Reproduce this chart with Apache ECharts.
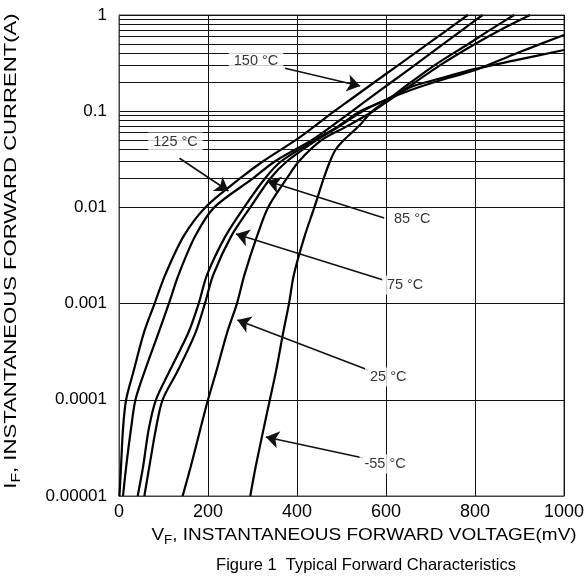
<!DOCTYPE html>
<html><head><meta charset="utf-8">
<script src="https://cdn.jsdelivr.net/npm/echarts@6.0.0/dist/echarts.min.js"></script>
<style>html,body{margin:0;padding:0;background:#fff}#c{width:587px;height:578px}</style>
</head><body><div id="c"></div>
<script>
// ---- axis / tick data ----
const xMin = 0, xMax = 1000, xStep = 200;
const yTickLabels = ['0.00001', '0.0001', '0.001', '0.01', '0.1', '1'];
const decades = [0.00001, 0.0001, 0.001, 0.01, 0.1];
const minorMultipliers = [2, 3, 4, 5, 6, 7, 8, 9];

// ---- curves: forward voltage (mV) vs forward current (A) ----
const vf150 = [1, 4.5, 9, 16, 33, 56, 80, 104, 145, 194, 272, 323, 397, 440, 484, 518, 574, 627, 694, 738, 784];
const if150 = [0.00001, 0.00002, 0.00005, 0.0001, 0.0002, 0.0005, 0.001, 0.002, 0.005, 0.01, 0.02, 0.03, 0.05, 0.07, 0.1, 0.13, 0.2, 0.3, 0.5, 0.7, 1];

const vf125 = [9, 16, 27, 37, 58, 89, 112, 134, 171, 214, 301, 350, 433, 478, 524, 557, 612, 664, 729, 772, 817];
const if125 = [0.00001, 0.00002, 0.00005, 0.0001, 0.0002, 0.0005, 0.001, 0.002, 0.005, 0.01, 0.02, 0.03, 0.05, 0.07, 0.1, 0.13, 0.2, 0.3, 0.5, 0.7, 1];

const vf85 = [42, 54, 67, 83, 114, 156, 179, 198, 239, 281, 328, 364, 440, 493, 542, 598, 656, 717, 801, 895, 1000];
const if85 = [0.00001, 0.00002, 0.00005, 0.0001, 0.0002, 0.0005, 0.001, 0.002, 0.005, 0.01, 0.02, 0.03, 0.05, 0.07, 0.1, 0.13, 0.179, 0.216, 0.275, 0.341, 0.433];

const vf75 = [57, 68, 83, 98, 132, 172, 193, 212, 252, 295, 340, 377, 444, 496, 547, 598, 656, 717, 801, 895, 1000];
const if75 = [0.00001, 0.00002, 0.00005, 0.0001, 0.0002, 0.0005, 0.001, 0.002, 0.005, 0.01, 0.02, 0.03, 0.05, 0.07, 0.1, 0.13, 0.166, 0.206, 0.268, 0.403, 0.62];

const vf25 = [143, 161, 183, 200, 219, 243, 265, 282, 310, 335, 377, 404, 455, 513, 571, 607, 666, 721, 800, 857, 924];
const if25 = [0.00001, 0.00002, 0.00005, 0.0001, 0.0002, 0.0005, 0.001, 0.002, 0.005, 0.01, 0.02, 0.03, 0.05, 0.07, 0.1, 0.13, 0.2, 0.3, 0.5, 0.7, 1];

const vfm55 = [295, 307, 325, 339, 353, 369, 382, 393, 417, 439, 460, 474, 487, 505, 539, 569, 603, 656, 709, 785, 834, 888];
const ifm55 = [0.00001, 0.00002, 0.00005, 0.0001, 0.0002, 0.0005, 0.001, 0.002, 0.005, 0.01, 0.02, 0.03, 0.04, 0.05, 0.07, 0.1, 0.13, 0.2, 0.3, 0.5, 0.7, 1];

// ---- annotation labels and arrows (data coordinates) ----
const labelTexts = ['150 °C', '125 °C', '85 °C', '75 °C', '25 °C', '-55 °C'];
const labelVoltage = [308, 127, 659, 643, 605, 598];
const labelCurrent = [0.333, 0.0479, 0.00757, 0.00156, 0.000173, 0.0000215];
const arrowFromV = [373, 136, 596, 594, 560, 549];
const arrowFromI = [0.279, 0.0324, 0.00776, 0.00176, 0.000204, 0.0000248];
const arrowToV = [542, 246, 333, 263, 266, 330];
const arrowToI = [0.183, 0.0148, 0.0188, 0.00529, 0.000676, 0.000041];

const FONT = 'Liberation Sans, Arial, sans-serif';

const curves = [[vf150, if150], [vf125, if125], [vf85, if85], [vf75, if75], [vf25, if25], [vfm55, ifm55]];
const curveNames = ['150°C', '125°C', '85°C', '75°C', '25°C', '-55°C'];

const minorValues = [];
decades.forEach(d => minorMultipliers.forEach(k => minorValues.push(+(k * d).toPrecision(3))));

const series = [];
// minor horizontal grid lines
series.push({
  type: 'line', name: 'grid', data: [[xMin, decades[0]]], showSymbol: false, silent: true,
  lineStyle: { opacity: 0 }, z: 1,
  markLine: {
    silent: true, symbol: 'none', label: { show: false }, animation: false,
    lineStyle: { color: '#111', width: 1, type: 'solid' },
    data: minorValues.map(v => ({ yAxis: v }))
  }
});
curves.forEach((c, idx) => {
  series.push({
    type: 'line', name: curveNames[idx], showSymbol: false, silent: true, z: 3,
    smooth: 0.3,
    lineStyle: { color: '#000', width: 2.2 },
    data: c[0].map((v, i) => [v, c[1][i]])
  });
});
// arrows
series.push({
  type: 'line', name: 'arrows', data: [[xMin, decades[0]]], showSymbol: false, silent: true,
  lineStyle: { opacity: 0 }, z: 4,
  markLine: {
    silent: true, animation: false, symbol: ['none', 'arrow'], symbolSize: 13,
    label: { show: false },
    lineStyle: { color: '#111', width: 1.6, type: 'solid' },
    data: arrowFromV.map((v, i) => [{ coord: [v, arrowFromI[i]] }, { coord: [arrowToV[i], arrowToI[i]] }])
  }
});
// label boxes
series.push({
  type: 'scatter', name: 'labels', silent: true, z: 6, symbolSize: 2,
  itemStyle: { color: 'rgba(255,255,255,0)' },
  label: {
    show: true, position: 'inside', formatter: '{b}', color: '#000',
    fontFamily: FONT, fontSize: 14.5, backgroundColor: '#fff', padding: [2, 5]
  },
  labelLayout: { hideOverlap: false },
  data: labelTexts.map((t, i) => ({ name: t, value: [labelVoltage[i], labelCurrent[i]] }))
});

const chart = echarts.init(document.getElementById('c'), null, { renderer: 'canvas' });
chart.setOption({
  animation: false,
  backgroundColor: '#fff',
  grid: { left: 119, top: 15, width: 448, height: 481, show: true, borderColor: '#444', borderWidth: 1, backgroundColor: 'transparent' },
  xAxis: {
    type: 'value', min: xMin, max: xMax, interval: xStep,
    axisLine: { show: true, lineStyle: { color: '#444', width: 1 } },
    axisTick: { show: false },
    axisLabel: { color: '#000', fontSize: 18, fontFamily: FONT, margin: 7, formatter: v => String(v) },
    splitLine: { show: true, lineStyle: { color: '#111', width: 1 } }
  },
  yAxis: {
    type: 'log', logBase: 10, min: 0.00001, max: 1, splitNumber: 5,
    axisLine: { show: true, lineStyle: { color: '#444', width: 1 } },
    axisTick: { show: false },
    axisLabel: {
      color: '#000', fontSize: 17, fontFamily: FONT, margin: 12,
      formatter: v => yTickLabels[Math.round(Math.log10(v)) + 5]
    },
    splitLine: { show: true, lineStyle: { color: '#111', width: 1 } }
  },
  series: series,
  graphic: [
    {
      type: 'text', x: 364, y: 537, scaleX: 1.116, z: 10,
      style: {
        text: '{a|V}{s|F}{a|, INSTANTANEOUS FORWARD VOLTAGE(mV)}',
        textAlign: 'center', textVerticalAlign: 'middle', fill: '#000',
        rich: {
          a: { fontSize: 17, fontFamily: FONT, fill: '#000', verticalAlign: 'bottom', padding: [0, 0, 3, 0] },
          s: { fontSize: 12, fontFamily: FONT, fill: '#000', verticalAlign: 'bottom' }
        }
      }
    },
    {
      type: 'text', x: 366, y: 565, z: 10,
      style: {
        text: 'Figure 1  Typical Forward Characteristics',
        textAlign: 'center', textVerticalAlign: 'middle', fill: '#000',
        font: '16.5px ' + FONT
      }
    },
    {
      type: 'text', x: 13, y: 251, rotation: Math.PI / 2, scaleX: 1.3, z: 10,
      style: {
        text: '{a|I}{s|F}{a|, INSTANTANEOUS FORWARD CURRENT(A)}',
        textAlign: 'center', textVerticalAlign: 'middle', fill: '#000',
        rich: {
          a: { fontSize: 17, fontFamily: FONT, fill: '#000', verticalAlign: 'bottom', padding: [0, 0, 3, 0] },
          s: { fontSize: 12, fontFamily: FONT, fill: '#000', verticalAlign: 'bottom' }
        }
      }
    }
  ]
});
</script>
</body></html>
